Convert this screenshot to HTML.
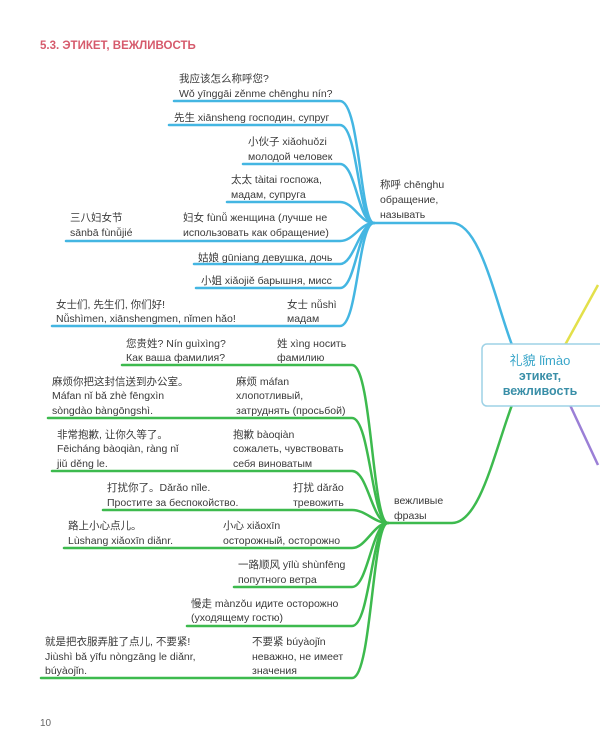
<!DOCTYPE html>
<html><head><meta charset="utf-8"><style>
body{margin:0;background:#fff;}
svg{display:block}
text{font-family:"Liberation Sans","Noto Sans CJK SC",sans-serif;font-size:10.5px;fill:#3a3a3a}
</style></head><body>
<svg width="600" height="750" viewBox="0 0 600 750" xmlns="http://www.w3.org/2000/svg">
<text x="40" y="49" style="font-size:11.5px;font-weight:bold;fill:#d65a6c">5.3. ЭТИКЕТ, ВЕЖЛИВОСТЬ</text>
<text x="40" y="726" style="font-size:10px;fill:#666">10</text>

<g fill="none" stroke="#44b6e2" stroke-width="2.5" stroke-linecap="round">
<path d="M174 101 L340 101 C360 101 360 223 374 223"/>
<path d="M169 125 L340 125 C358 125 358 223 374 223"/>
<path d="M243 164 L340 164 C356 164 358 223 374 223"/>
<path d="M227 202 L340 202 C354 202 360 223 374 223"/>
<path d="M66 241 L340 241 C354 241 360 223 374 223"/>
<path d="M194 264 L340 264 C354 264 360 223 374 223"/>
<path d="M196 288 L340 288 C356 288 358 223 374 223"/>
<path d="M52 326 L340 326 C358 326 358 223 374 223"/>
<path d="M374 223 L452 223 C480 223 495 300 512 345"/>
</g>
<g fill="none" stroke="#3dba4e" stroke-width="2.5" stroke-linecap="round">
<path d="M122 365 L352 365 C372 365 372 523 388 523"/>
<path d="M48 418 L352 418 C370 418 372 523 388 523"/>
<path d="M52 471 L352 471 C368 471 372 523 388 523"/>
<path d="M103 510 L352 510 C366 510 374 523 388 523"/>
<path d="M64 548 L352 548 C366 548 374 523 388 523"/>
<path d="M234 587 L352 587 C368 587 372 523 388 523"/>
<path d="M187 626 L352 626 C370 626 372 523 388 523"/>
<path d="M41 678 L352 678 C372 678 372 523 388 523"/>
<path d="M388 523 L452 523 C480 523 495 450 512 405"/>
</g>
<path d="M565 345 L598 285" stroke="#e3e04a" stroke-width="2.5" fill="none"/>
<path d="M570 405 L598 465" stroke="#9b7fd6" stroke-width="2.5" fill="none"/>
<rect x="482" y="344" width="124" height="62" rx="5" fill="#fff" stroke="#9ed2e6" stroke-width="1.5"/>
<text x="540" y="365" text-anchor="middle" style="font-size:13px;fill:#3aa6c9">礼貌 lǐmào</text>
<text x="540" y="380" text-anchor="middle" style="font-size:12.5px;font-weight:bold;fill:#3a8fa8">этикет,</text>
<text x="540" y="395" text-anchor="middle" style="font-size:12.5px;font-weight:bold;fill:#3a8fa8">вежливость</text>

<text x="380" y="188">称呼 chēnghu</text>
<text x="380" y="203">обращение,</text>
<text x="380" y="218">называть</text>
<text x="394" y="504">вежливые</text>
<text x="394" y="519">фразы</text>

<text x="179" y="82">我应该怎么称呼您?</text>
<text x="179" y="97">Wǒ yīnggāi zěnme chēnghu nín?</text>
<text x="174" y="121">先生 xiānsheng господин, супруг</text>
<text x="248" y="145">小伙子 xiǎohuǒzi</text>
<text x="248" y="160">молодой человек</text>
<text x="231" y="183">太太 tàitai госпожа,</text>
<text x="231" y="198">мадам, супруга</text>
<text x="70" y="221">三八妇女节</text>
<text x="70" y="236">sānbā fùnǚjié</text>
<text x="183" y="221">妇女 fùnǚ женщина (лучше не</text>
<text x="183" y="236">использовать как обращение)</text>
<text x="198" y="261">姑娘 gūniang девушка, дочь</text>
<text x="201" y="284">小姐 xiǎojiě барышня, мисс</text>
<text x="56" y="308">女士们, 先生们, 你们好!</text>
<text x="56" y="322">Nǚshìmen, xiānshengmen, nǐmen hǎo!</text>
<text x="287" y="308">女士 nǚshì</text>
<text x="287" y="322">мадам</text>

<text x="126" y="347">您贵姓? Nín guìxìng?</text>
<text x="126" y="361">Как ваша фамилия?</text>
<text x="277" y="347">姓 xìng носить</text>
<text x="277" y="361">фамилию</text>
<text x="52" y="385">麻烦你把这封信送到办公室。</text>
<text x="52" y="399">Máfan nǐ bǎ zhè fēngxìn</text>
<text x="52" y="414">sòngdào bàngōngshì.</text>
<text x="236" y="385">麻烦 máfan</text>
<text x="236" y="399">хлопотливый,</text>
<text x="236" y="414">затруднять (просьбой)</text>
<text x="57" y="438">非常抱歉, 让你久等了。</text>
<text x="57" y="452">Fēicháng bàoqiàn, ràng nǐ</text>
<text x="57" y="467">jiǔ děng le.</text>
<text x="233" y="438">抱歉 bàoqiàn</text>
<text x="233" y="452">сожалеть, чувствовать</text>
<text x="233" y="467">себя виноватым</text>
<text x="107" y="491">打扰你了。Dǎrǎo nǐle.</text>
<text x="107" y="506">Простите за беспокойство.</text>
<text x="293" y="491">打扰 dǎrǎo</text>
<text x="293" y="506">тревожить</text>
<text x="68" y="529">路上小心点儿。</text>
<text x="68" y="544">Lùshang xiǎoxīn diǎnr.</text>
<text x="223" y="529">小心 xiǎoxīn</text>
<text x="223" y="544">осторожный, осторожно</text>
<text x="238" y="568">一路顺风 yīlù shùnfēng</text>
<text x="238" y="583">попутного ветра</text>
<text x="191" y="607">慢走 mànzǒu идите осторожно</text>
<text x="191" y="621">(уходящему гостю)</text>
<text x="45" y="645">就是把衣服弄脏了点儿, 不要紧!</text>
<text x="45" y="660">Jiùshì bǎ yīfu nòngzāng le diǎnr,</text>
<text x="45" y="674">búyàojǐn.</text>
<text x="252" y="645">不要紧 búyàojǐn</text>
<text x="252" y="660">неважно, не имеет</text>
<text x="252" y="674">значения</text>
</svg>
</body></html>
